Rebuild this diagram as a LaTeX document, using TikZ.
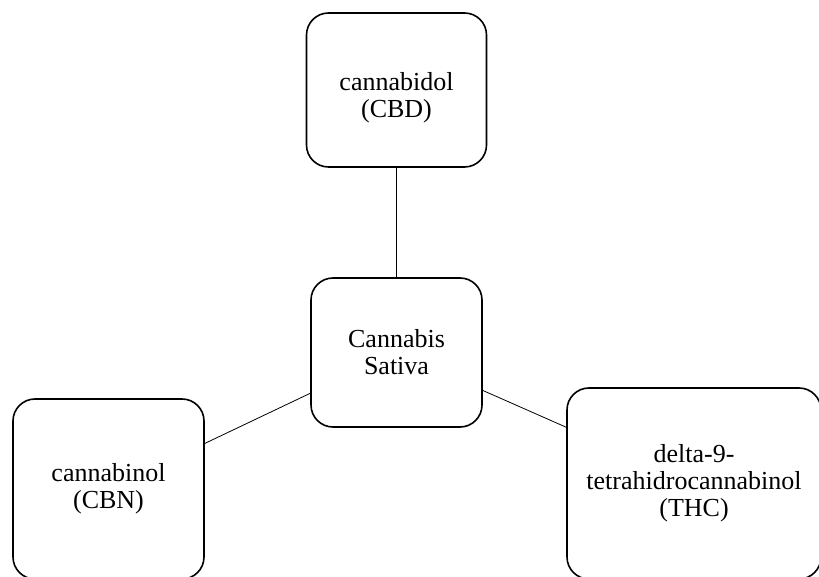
\documentclass[tikz,border=0pt]{standalone}
\usepackage{fontspec}
\setmainfont{Liberation Serif}
\usetikzlibrary{positioning}
\tikzset{
  comp/.style={draw, line width=1.6pt, rounded corners=22pt, align=center,
    font=\fontsize{26}{27}\selectfont, inner sep=0pt},
  link/.style={line width=0.8pt}
}

\begin{document}
\begin{tikzpicture}[x=1pt,y=1pt]
  \useasboundingbox (0,0) rectangle (819,576);
  \clip (0,0) rectangle (819,576);
  % centre and the three compounds
  \node[comp, minimum width=171pt, minimum height=149pt] (sativa) at (396.5,223.5) {Cannabis\\Sativa};
  \node[comp, minimum width=180pt, minimum height=154pt] (cbd) at (396.5,486) {\rule{0pt}{34pt}cannabidol\\(CBD)};
  \node[comp, minimum width=191pt, minimum height=180pt] (cbn) at (108.5,87) {cannabinol\\(CBN)};
  \node[comp, minimum width=254pt, minimum height=191pt] (thc) at (694,92.5) {delta-9-\\tetrahidrocannabinol\\(THC)};
  % links
  \draw[link] (cbd) -- (sativa);
  \draw[link] (cbn) -- (sativa);
  \draw[link] (thc) -- (sativa);
\end{tikzpicture}
\end{document}
